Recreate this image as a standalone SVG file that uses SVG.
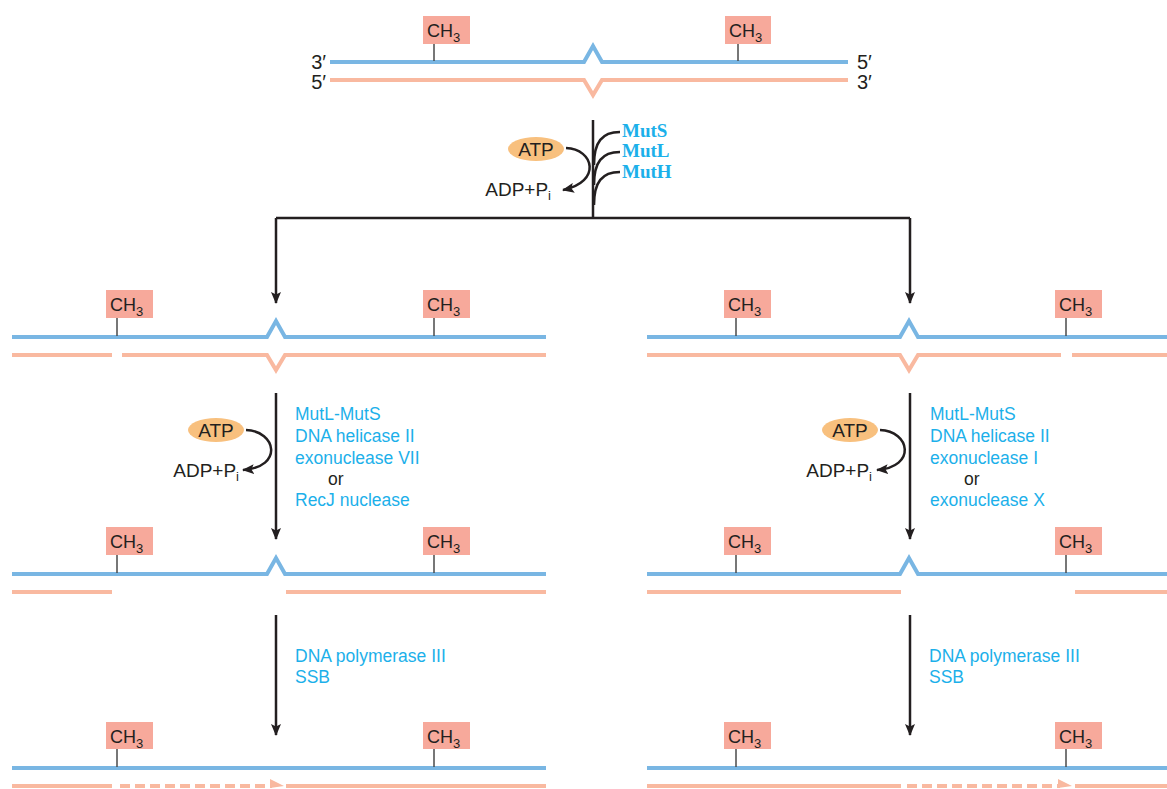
<svg xmlns="http://www.w3.org/2000/svg" width="1167" height="789" viewBox="0 0 1167 789">
<style>
.blue{stroke:#79b6e3;stroke-width:4;fill:none;stroke-linejoin:miter}
.pink{stroke:#f9b9a0;stroke-width:4;fill:none;stroke-linejoin:miter}
.dash{stroke:#f9b9a0;stroke-width:4;fill:none;stroke-dasharray:10 5}
.phead{fill:#f9b9a0}
.box{fill:#f7a99b}
.stem{stroke:#4a4a4a;stroke-width:1.5}
.t{font-family:"Liberation Sans",Arial,sans-serif;font-size:19px;fill:#231f20}
.ch{font-family:"Liberation Sans",Arial,sans-serif;font-size:18px;fill:#231f20}
.prime{font-family:"Liberation Sans",Arial,sans-serif;font-size:20px;fill:#231f20}
.sub{font-size:13px}
.enz{font-family:"Liberation Sans",Arial,sans-serif;font-size:17.5px;fill:#1cb0ea}
.or{font-family:"Liberation Sans",Arial,sans-serif;font-size:17.5px;fill:#231f20}
.mut{font-family:"Liberation Serif",serif;font-weight:bold;font-size:19px;fill:#1cb0ea}
.arr{stroke:#231f20;stroke-width:2.5;fill:none}
.atp{fill:#f8c07e}
</style>
<defs>
<marker id="ah" viewBox="0 0 12 10" refX="11" refY="5" markerWidth="12" markerHeight="10" markerUnits="userSpaceOnUse" orient="auto">
<path d="M0,0 L12,5 L0,10 L2.5,5 Z" fill="#231f20"/>
</marker>
</defs>

<!-- Top duplex -->
<g id="duplex-top">
<path class="blue" d="M330,62 H584 L593,46 L602,62 H848"/>
<path class="pink" d="M330,80 H584 L593,95 L602,80 H848"/>
<line class="stem" x1="434" y1="44" x2="434" y2="61"/>
<rect class="box" x="423" y="16" width="47" height="28"/>
<text class="ch" x="427" y="37">CH<tspan class="sub" dy="5">3</tspan></text>
<line class="stem" x1="738" y1="44" x2="738" y2="61"/>
<rect class="box" x="725" y="16" width="46" height="28"/>
<text class="ch" x="729" y="37">CH<tspan class="sub" dy="5">3</tspan></text>
<text class="prime" x="326" y="69" text-anchor="end">3′</text>
<text class="prime" x="326" y="89" text-anchor="end">5′</text>
<text class="prime" x="857" y="69">5′</text>
<text class="prime" x="857" y="89">3′</text>
</g>

<!-- Step 1 labels -->
<g id="step1">
<ellipse class="atp" cx="536" cy="149" rx="28" ry="12"/>
<text class="t" x="536" y="156" text-anchor="middle">ATP</text>
<text class="t" x="551" y="196" text-anchor="end">ADP+P<tspan class="sub" dy="4">i</tspan></text>
<text class="mut" x="622" y="137">MutS</text>
<text class="mut" x="622" y="157">MutL</text>
<text class="mut" x="622" y="178">MutH</text>
</g>

<!-- Level 2 left -->
<g id="duplex-2L">
<path class="blue" d="M12,337 H267 L276,321 L285,337 H546"/>
<path class="pink" d="M12,355 H112 M122,355 H267 L276,370 L285,355 H546"/>
<line class="stem" x1="117" y1="318" x2="117" y2="336"/>
<rect class="box" x="106" y="290" width="47" height="28"/>
<text class="ch" x="110" y="311">CH<tspan class="sub" dy="5">3</tspan></text>
<line class="stem" x1="434" y1="318" x2="434" y2="336"/>
<rect class="box" x="423" y="290" width="47" height="28"/>
<text class="ch" x="427" y="311">CH<tspan class="sub" dy="5">3</tspan></text>
</g>

<!-- Level 2 right -->
<g id="duplex-2R">
<path class="blue" d="M647,337 H900 L909,321 L918,337 H1167"/>
<path class="pink" d="M647,355 H900 L909,370 L918,355 H1061 M1072,355 H1167"/>
<line class="stem" x1="736" y1="318" x2="736" y2="336"/>
<rect class="box" x="724" y="290" width="47" height="28"/>
<text class="ch" x="728" y="311">CH<tspan class="sub" dy="5">3</tspan></text>
<line class="stem" x1="1066" y1="318" x2="1066" y2="336"/>
<rect class="box" x="1055" y="290" width="47" height="28"/>
<text class="ch" x="1059" y="311">CH<tspan class="sub" dy="5">3</tspan></text>
</g>

<!-- Step 2 labels left -->
<g id="step2L">
<ellipse class="atp" cx="216" cy="430" rx="28" ry="12"/>
<text class="t" x="216" y="437" text-anchor="middle">ATP</text>
<text class="t" x="239" y="477" text-anchor="end">ADP+P<tspan class="sub" dy="4">i</tspan></text>
<text class="enz" x="295" y="420">MutL-MutS</text>
<text class="enz" x="295" y="442">DNA helicase II</text>
<text class="enz" x="295" y="464">exonuclease VII</text>
<text class="or" x="328" y="485">or</text>
<text class="enz" x="295" y="506">RecJ nuclease</text>
</g>

<!-- Step 2 labels right -->
<g id="step2R">
<ellipse class="atp" cx="850" cy="430" rx="28" ry="12"/>
<text class="t" x="850" y="437" text-anchor="middle">ATP</text>
<text class="t" x="872" y="477" text-anchor="end">ADP+P<tspan class="sub" dy="4">i</tspan></text>
<text class="enz" x="930" y="420">MutL-MutS</text>
<text class="enz" x="930" y="442">DNA helicase II</text>
<text class="enz" x="930" y="464">exonuclease I</text>
<text class="or" x="964" y="485">or</text>
<text class="enz" x="930" y="506">exonuclease X</text>
</g>

<!-- Level 4 left -->
<g id="duplex-4L">
<path class="blue" d="M12,574 H267 L276,558 L285,574 H546"/>
<path class="pink" d="M12,592 H112 M286,592 H546"/>
<line class="stem" x1="117" y1="555" x2="117" y2="573"/>
<rect class="box" x="106" y="527" width="47" height="28"/>
<text class="ch" x="110" y="548">CH<tspan class="sub" dy="5">3</tspan></text>
<line class="stem" x1="434" y1="555" x2="434" y2="573"/>
<rect class="box" x="423" y="527" width="47" height="28"/>
<text class="ch" x="427" y="548">CH<tspan class="sub" dy="5">3</tspan></text>
</g>

<!-- Level 4 right -->
<g id="duplex-4R">
<path class="blue" d="M647,574 H900 L909,558 L918,574 H1167"/>
<path class="pink" d="M647,592 H901 M1075,592 H1167"/>
<line class="stem" x1="736" y1="555" x2="736" y2="573"/>
<rect class="box" x="724" y="527" width="47" height="28"/>
<text class="ch" x="728" y="548">CH<tspan class="sub" dy="5">3</tspan></text>
<line class="stem" x1="1066" y1="555" x2="1066" y2="573"/>
<rect class="box" x="1055" y="527" width="47" height="28"/>
<text class="ch" x="1059" y="548">CH<tspan class="sub" dy="5">3</tspan></text>
</g>

<!-- Step 3 labels -->
<g id="step3L">
<text class="enz" x="295" y="662">DNA polymerase III</text>
<text class="enz" x="295" y="683">SSB</text>
</g>
<g id="step3R">
<text class="enz" x="929" y="662">DNA polymerase III</text>
<text class="enz" x="929" y="683">SSB</text>
</g>

<!-- Level 5 left -->
<g id="duplex-5L">
<path class="blue" d="M12,768 H546"/>
<path class="pink" d="M12,786 H112 M286,786 H546"/>
<path class="dash" d="M120,786 H272"/>
<path class="phead" d="M270,779 L284,786 L270,788 Z"/>
<line class="stem" x1="117" y1="749" x2="117" y2="767"/>
<rect class="box" x="106" y="722" width="47" height="27"/>
<text class="ch" x="110" y="743">CH<tspan class="sub" dy="5">3</tspan></text>
<line class="stem" x1="434" y1="749" x2="434" y2="767"/>
<rect class="box" x="423" y="722" width="47" height="27"/>
<text class="ch" x="427" y="743">CH<tspan class="sub" dy="5">3</tspan></text>
</g>

<!-- Level 5 right -->
<g id="duplex-5R">
<path class="blue" d="M647,768 H1167"/>
<path class="pink" d="M647,786 H901 M1075,786 H1167"/>
<path class="dash" d="M907,786 H1060"/>
<path class="phead" d="M1058,779 L1072,786 L1058,788 Z"/>
<line class="stem" x1="736" y1="749" x2="736" y2="767"/>
<rect class="box" x="724" y="722" width="47" height="27"/>
<text class="ch" x="728" y="743">CH<tspan class="sub" dy="5">3</tspan></text>
<line class="stem" x1="1066" y1="749" x2="1066" y2="767"/>
<rect class="box" x="1055" y="722" width="47" height="27"/>
<text class="ch" x="1059" y="743">CH<tspan class="sub" dy="5">3</tspan></text>
</g>

<!-- Connectors -->
<g id="connectors">
<path class="arr" d="M593,120 V218"/>
<path class="arr" d="M620,132 C602,132 594,142 594,165"/>
<path class="arr" d="M620,152 C602,152 594,162 594,185"/>
<path class="arr" d="M620,172 C602,172 594,182 594,205"/>
<path class="arr" d="M566,148 C594,149 602,182 563,190" marker-end="url(#ah)"/>
<path class="arr" d="M276,218 H910 M910,218 V303" marker-end="url(#ah)"/>
<path class="arr" d="M276,218 V303" marker-end="url(#ah)"/>
<path class="arr" d="M276,393 V539" marker-end="url(#ah)"/>
<path class="arr" d="M910,393 V539" marker-end="url(#ah)"/>
<path class="arr" d="M246,430 C276,431 284,467 243,470" marker-end="url(#ah)"/>
<path class="arr" d="M880,430 C910,431 917,467 877,470" marker-end="url(#ah)"/>
<path class="arr" d="M276,615 V735" marker-end="url(#ah)"/>
<path class="arr" d="M910,615 V735" marker-end="url(#ah)"/>
</g>
</svg>
